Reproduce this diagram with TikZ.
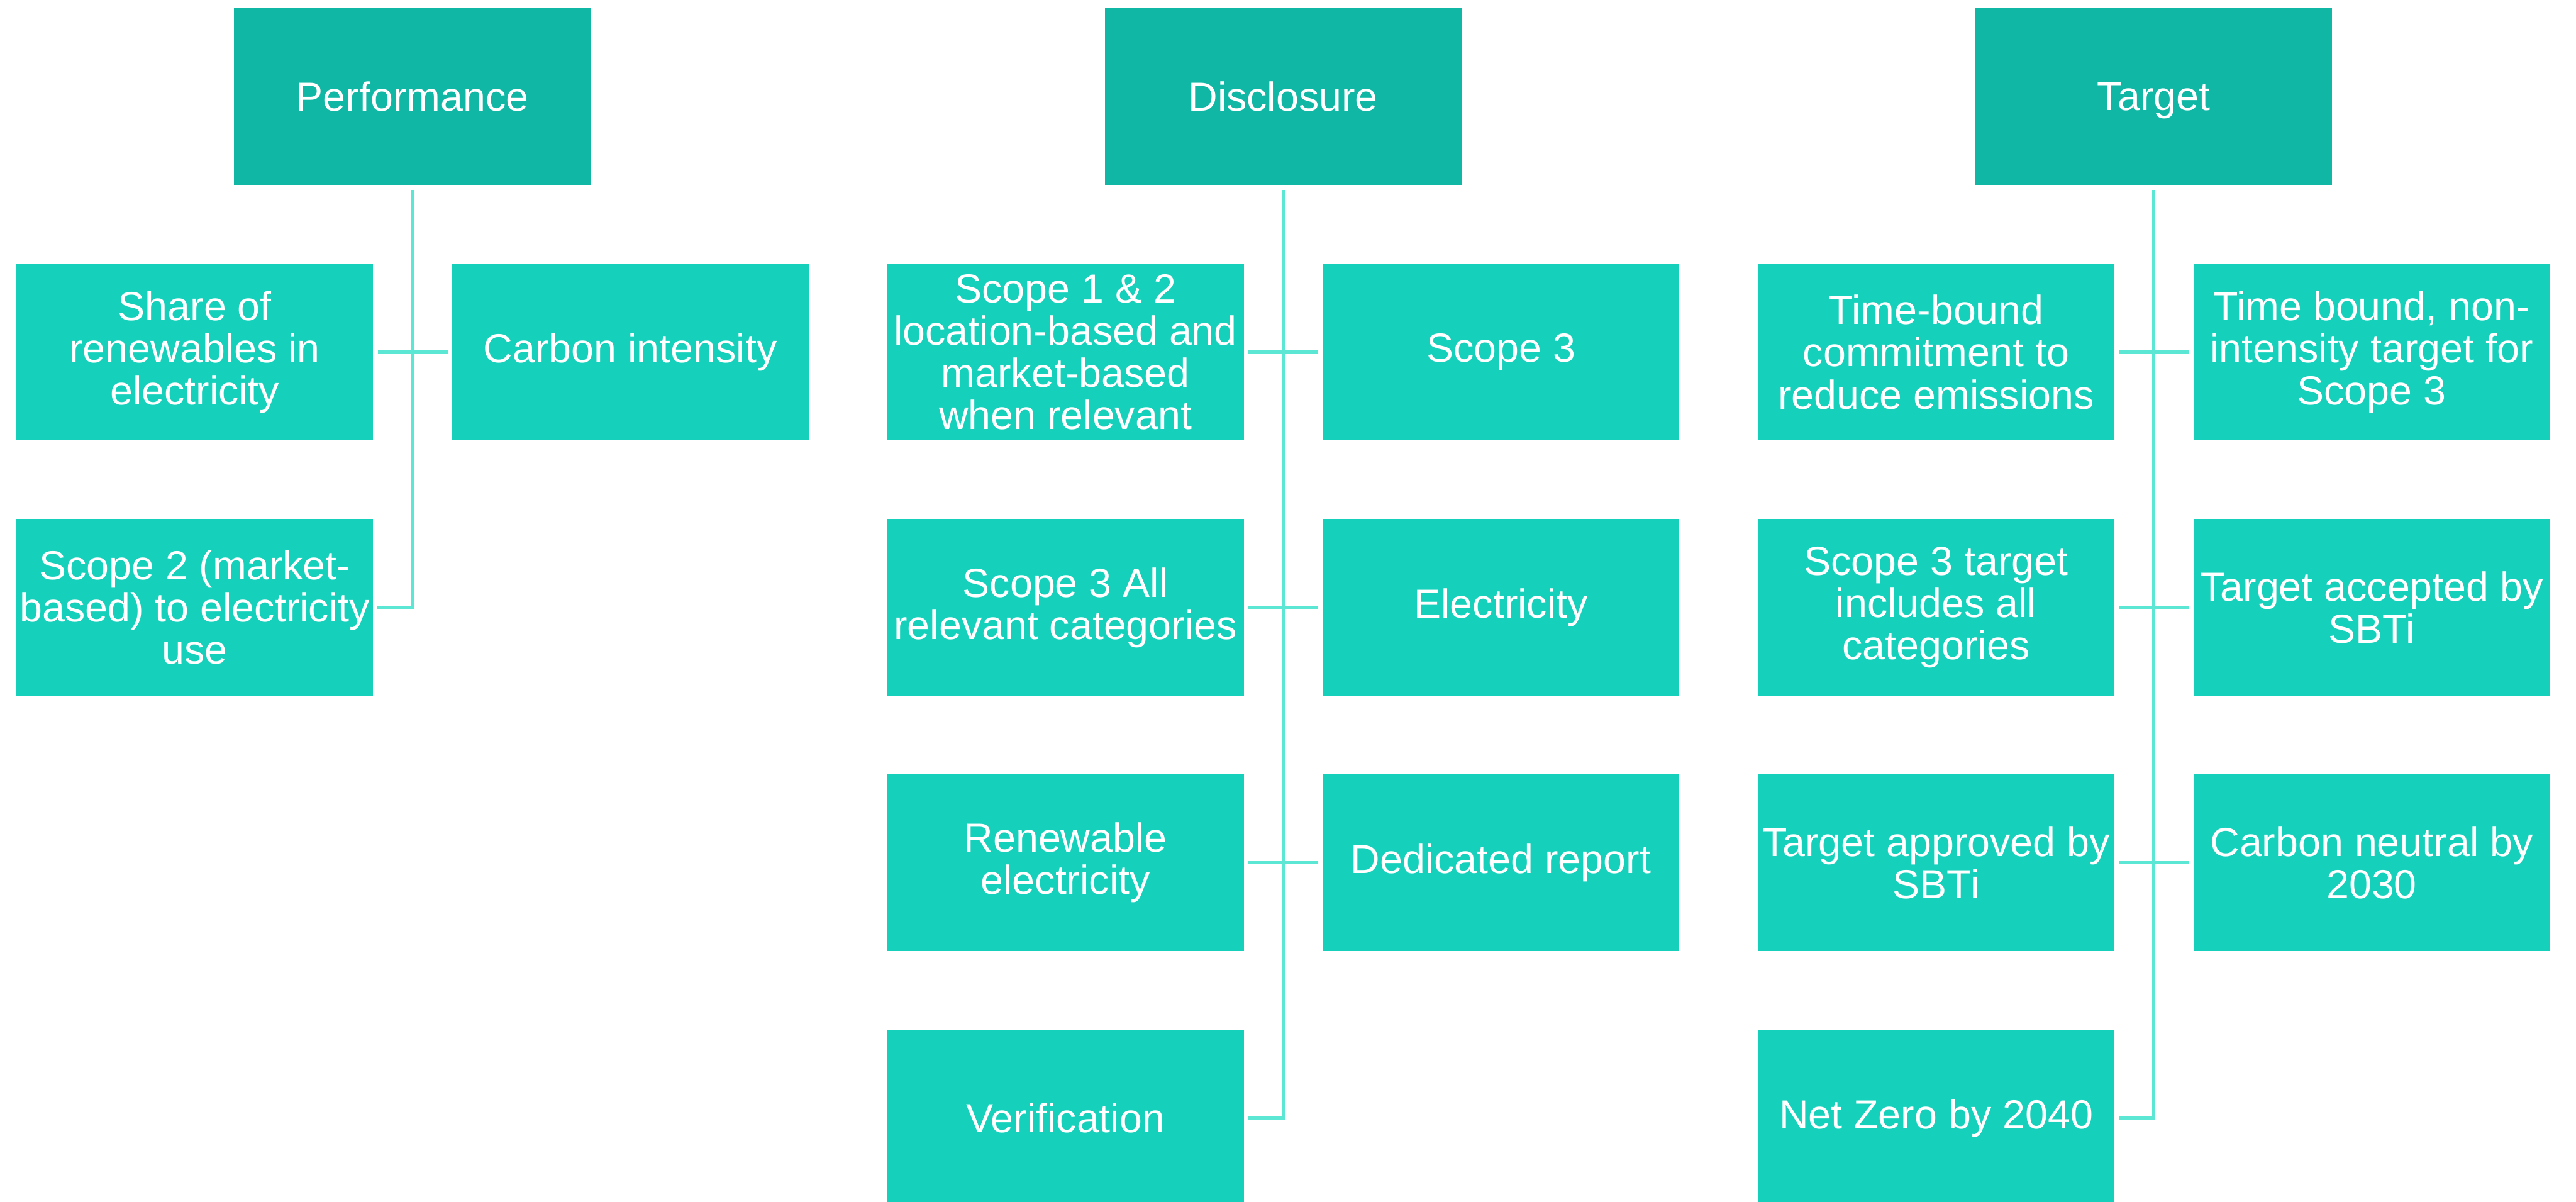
\documentclass[tikz,border=0pt]{standalone}
\usepackage{fontspec}
\setmainfont{Liberation Sans}
\usepackage{tikz}
\definecolor{headteal}{HTML}{10B7A5}
\definecolor{itemteal}{HTML}{15D1BC}
\definecolor{linkteal}{HTML}{5CE6D4}

\begin{document}
\begin{tikzpicture}
      [line width=1.7pt,
       box/.style = {fill=itemteal, text=white, inner sep=0pt,
                     minimum width=6.48cm, minimum height=3.21cm, align=center,
                     font=\fontsize{21}{21.8}\selectfont},
       head/.style = {box, fill=headteal},
       link/.style = {draw=linkteal, shorten <=0.06cm, shorten >=0.05cm}]
      \useasboundingbox (0,0) rectangle (46.82,-21.84);
      \fill[white] (0,0) rectangle (46.82,-21.84);
      % headers
      \node[head] (perf) at (7.495,-1.755) {Performance};
      \node[head] (disc) at (23.32,-1.755) {Disclosure};
      \node[head] (targ) at (39.145,-1.755) {\raisebox{0pt}[\height][0pt]{Target}};
      % performance
      \node[box] (p1) at (3.54,-6.40) {Share of\\renewables in\\electricity};
      \node[box] (p2) at (11.455,-6.40) {Carbon intensity};
      \node[box] (p3) at (3.54,-11.04) {Scope 2 (market-\\based) to electricity\\use};
      % disclosure
      \node[box] (d1) at (19.365,-6.40) {Scope 1 \& 2\\location-based and\\market-based\\when relevant};
      \node[box] (d2) at (27.28,-6.40) {Scope 3};
      \node[box] (d3) at (19.365,-11.04) {Scope 3 All\\relevant categories};
      \node[box] (d4) at (27.28,-11.04) {Electricity};
      \node[box] (d5) at (19.365,-15.68) {Renewable\\electricity};
      \node[box] (d6) at (27.28,-15.68) {Dedicated report};
      \node[box] (d7) at (19.365,-20.32) {Verification};
      % target
      \node[box] (t1) at (35.19,-6.40) {Time-bound\\commitment to\\reduce emissions};
      \node[box] (t2) at (43.105,-6.40) {Time bound, non-\\intensity target for\\Scope 3};
      \node[box] (t3) at (35.19,-11.04) {Scope 3 target\\includes all\\categories};
      \node[box] (t4) at (43.105,-11.04) {Target accepted by\\SBTi};
      \node[box] (t5) at (35.19,-15.68) {Target approved by\\SBTi};
      \node[box] (t6) at (43.105,-15.68) {Carbon neutral by\\2030};
      \node[box] (t7) at (35.19,-20.32) {Net Zero by 2040};
      % spines
      \draw[link] (perf.south) |- (p3.east);
      \draw[link] (disc.south) |- (d7.east);
      \draw[link] (targ.south) |- (t7.east);
      % branches
      \foreach \a/\b in {p1/p2, d1/d2, d3/d4, d5/d6, t1/t2, t3/t4, t5/t6}
        \draw[link] (\a.east) -- (\b.west);
      \end{tikzpicture}
\end{document}
